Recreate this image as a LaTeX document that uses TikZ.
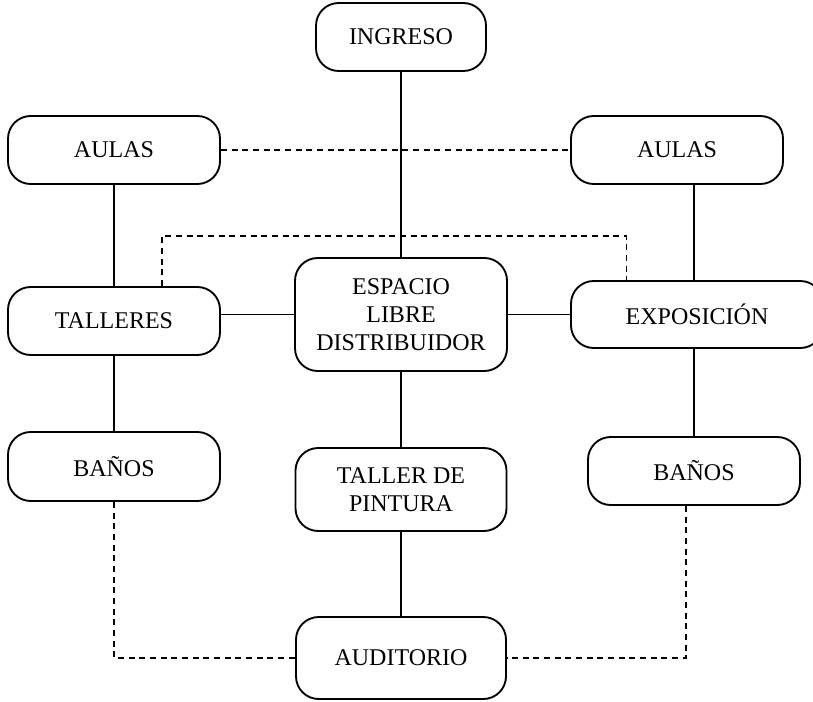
\documentclass[tikz,border=0pt]{standalone}
\usepackage{fontspec}
\setmainfont{Liberation Serif}
\begin{document}
\begin{tikzpicture}[x=0.75pt,y=-0.75pt,
  box/.style={draw, line width=1.4pt, rounded corners=17pt, align=center,
    font=\fontsize{18}{21}\selectfont, inner sep=0pt, fill=white},
  link/.style={line width=1.1pt},
  dlink/.style={line width=1.1pt, dash pattern=on 4.5pt off 3.5pt}]
\useasboundingbox (0,0) rectangle (813,702);
\clip (0,0) rectangle (813,702);
% nodes
\node[box, minimum width=127.5pt, minimum height=51pt] (ingreso) at (401,37) {INGRESO};
\node[box, minimum width=159pt, minimum height=51pt] (aulasL) at (114,150) {AULAS};
\node[box, minimum width=159pt, minimum height=51pt] (aulasR) at (677,150) {AULAS};
\node[box, minimum width=159pt, minimum height=51pt] (talleres) at (114,321) {TALLERES};
\node[box, minimum width=159pt, minimum height=84.75pt] (espacio) at (401,314.5) {ESPACIO\\LIBRE\\DISTRIBUIDOR};
\node[box, minimum width=189pt, minimum height=50.25pt] (expo) at (697,314.5) {EXPOSICIÓN};
\node[box, minimum width=159pt, minimum height=51.75pt] (banosL) at (114,466.5) {BAÑOS};
\node[box, minimum width=158.25pt, minimum height=62.25pt] (pintura) at (401,489.5) {TALLER DE\\PINTURA};
\node[box, minimum width=159pt, minimum height=51pt] (banosR) at (694,471) {BAÑOS};
\node[box, minimum width=157.5pt, minimum height=61.5pt] (auditorio) at (401,658) {AUDITORIO};
% solid connectors
\draw[link] (ingreso.south) -- (espacio.north);
\draw[link] (aulasL.south) -- (talleres.north);
\draw[link] (aulasR.south -| banosR.north) -- (expo.north -| banosR.north);
\draw[link] (talleres.east |- espacio.west) -- (espacio.west);
\draw[link] (espacio.east) -- (expo.west);
\draw[link] (talleres.south) -- (banosL.north);
\draw[link] (espacio.south) -- (pintura.north);
\draw[link] (expo.south -| banosR.north) -- (banosR.north);
\draw[link] (pintura.south) -- (auditorio.north);
% dashed connectors
\draw[dlink] (aulasL.east) -- (aulasR.west);
\draw[dlink] ([xshift=36pt]talleres.north) -- ++(0,-50) -| ([xshift=-53pt]expo.north);
\draw[dlink] (banosL.south) |- (auditorio.west);
\draw[dlink] ([xshift=-6pt]banosR.south) |- (auditorio.east);
\end{tikzpicture}
\end{document}
